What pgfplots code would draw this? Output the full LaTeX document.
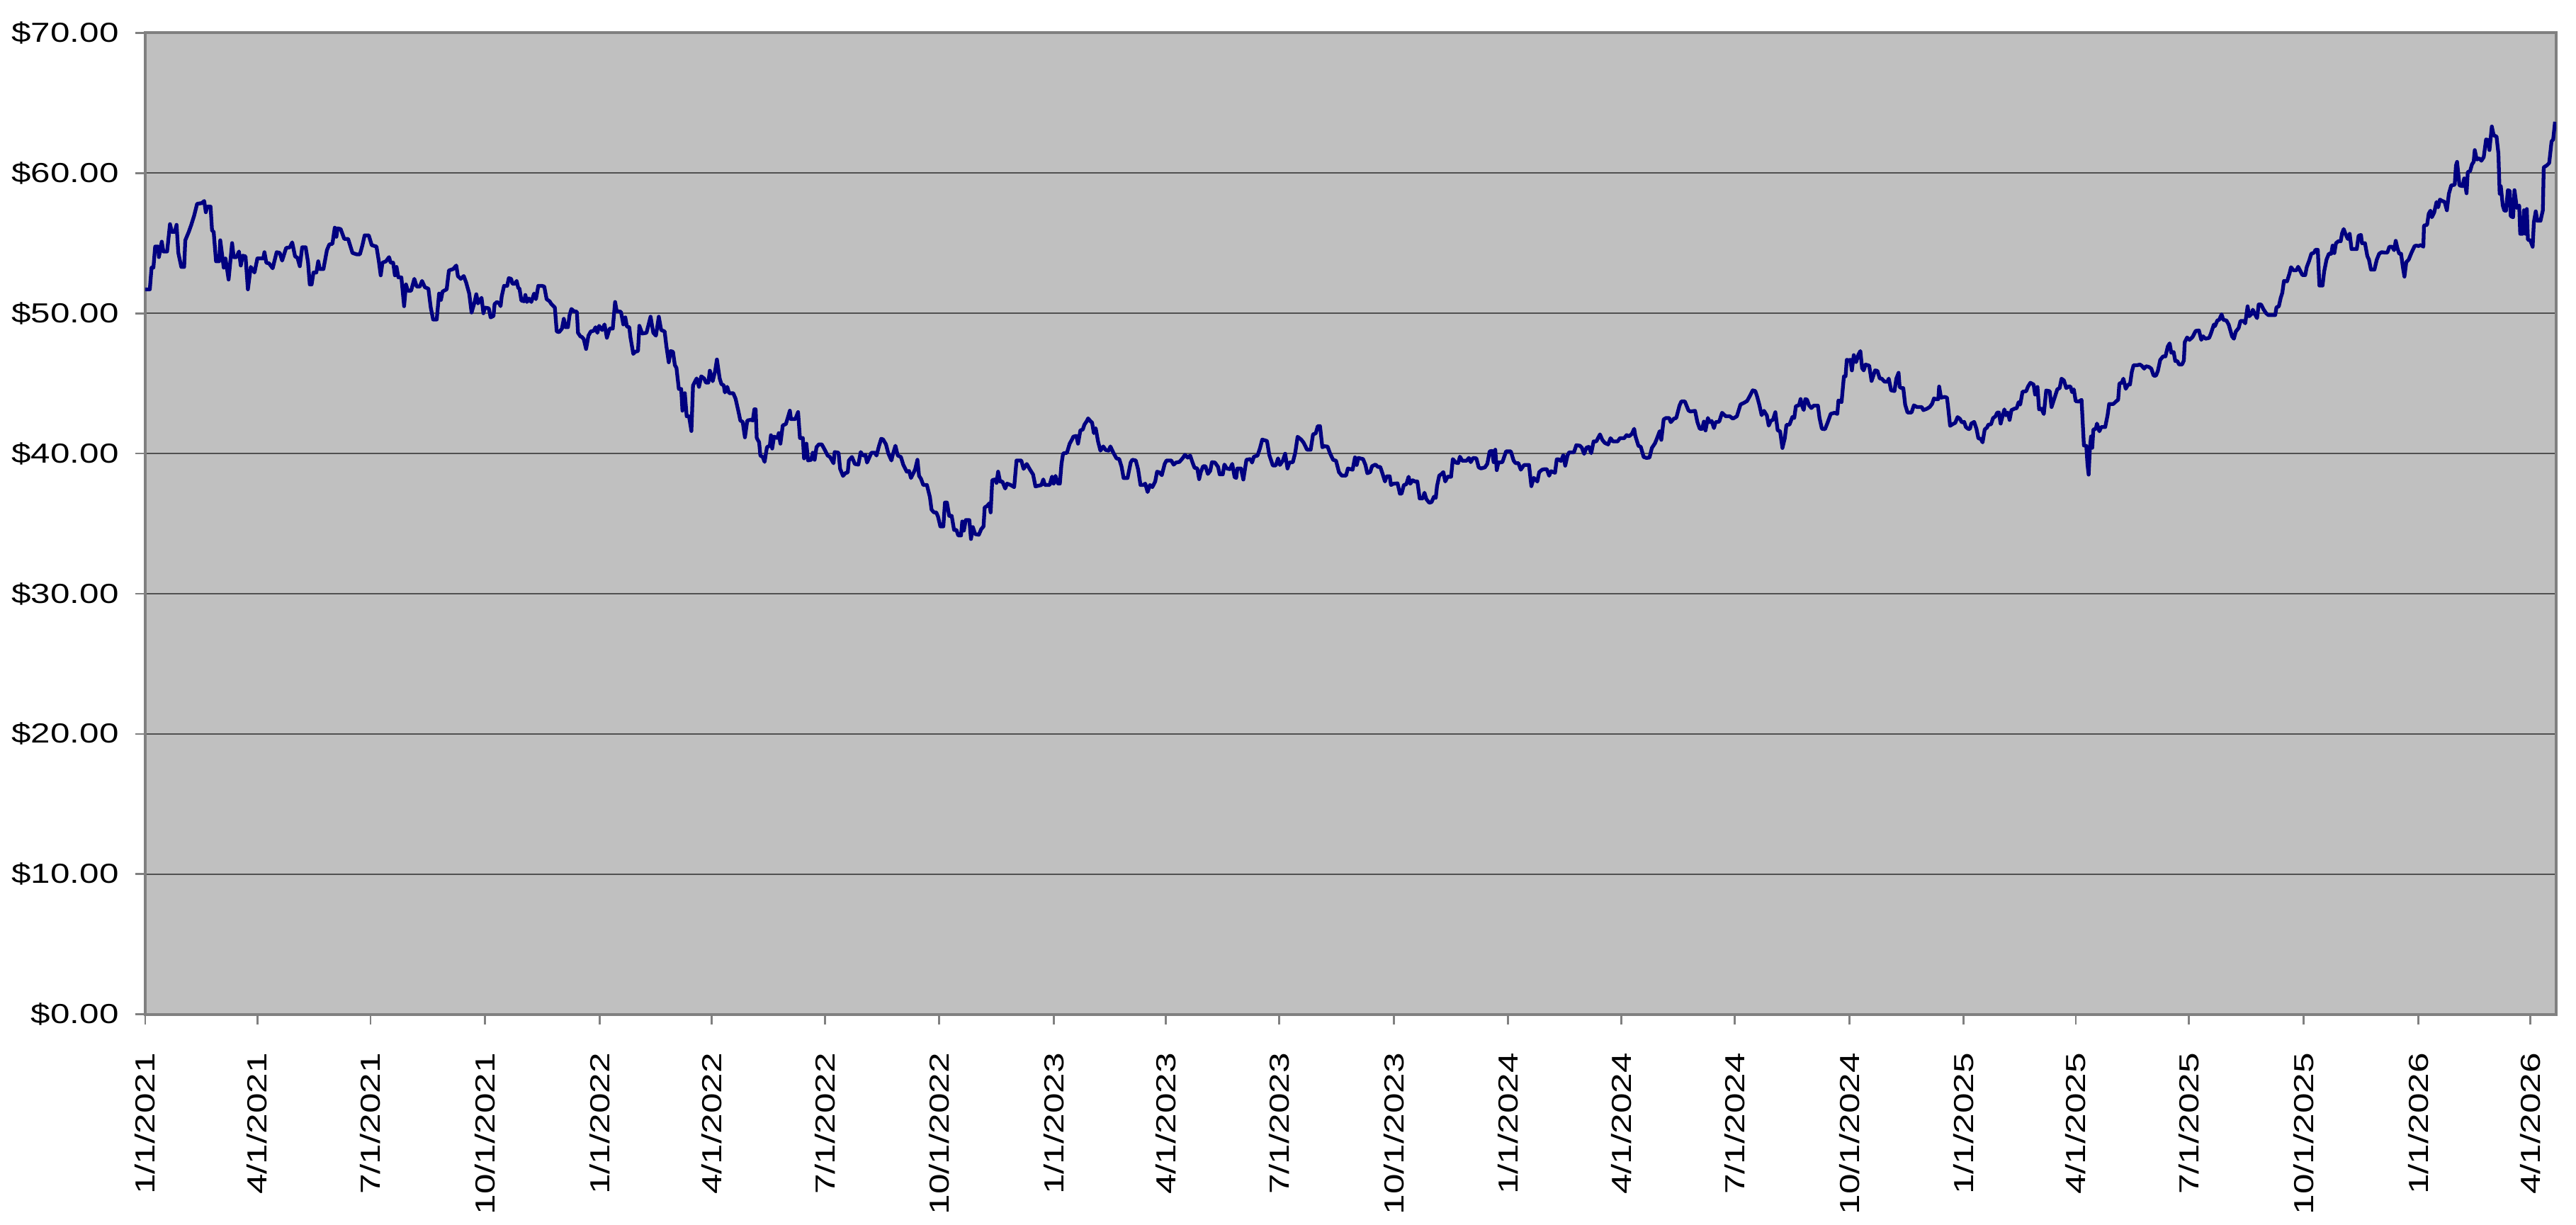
\documentclass[border=0pt]{standalone}
\usepackage{pgfplots}
\pgfplotsset{compat=1.18}
\usepackage{fontspec}
\setmainfont{Liberation Sans}
\newfontfamily\lab{Liberation Sans}[FakeStretch=1.27]
\newfontfamily\labx{Liberation Sans}[FakeStretch=1.32]
\definecolor{plotbg}{HTML}{C0C0C0}
\definecolor{navyline}{HTML}{000080}
\definecolor{framegray}{HTML}{808080}
\definecolor{gridgray}{HTML}{505050}
\begin{document}
\begin{tikzpicture}
\begin{axis}[
 at={(0,0)}, anchor=south west,
 width=709pt, height=288.7pt, scale only axis,
 xmin=0, xmax=1937, ymin=0, ymax=70,
 axis background/.style={fill=plotbg},
 axis line style={framegray, line width=0.8pt},
 ytick={0,10,...,70},
 yticklabels={\$0.00,\$10.00,\$20.00,\$30.00,\$40.00,\$50.00,\$60.00,\$70.00},
 xtick={0,90,181,273,365,455,546,638,730,820,911,1003,1095,1186,1277,1369,1461,1551,1642,1734,1826,1916},
 xticklabels={1/1/2021,4/1/2021,7/1/2021,10/1/2021,1/1/2022,4/1/2022,7/1/2022,10/1/2022,1/1/2023,4/1/2023,7/1/2023,10/1/2023,1/1/2024,4/1/2024,7/1/2024,10/1/2024,1/1/2025,4/1/2025,7/1/2025,10/1/2025,1/1/2026,4/1/2026},
 tick pos=left, tick align=outside, major tick length=3pt,
 tick style={framegray, line width=0.6pt},
 ymajorgrids, major grid style={gridgray, line width=0.4pt},
 xticklabel style={font=\labx\fontsize{8.1}{9}\selectfont, rotate=90, anchor=east, inner sep=0pt},
 yticklabel style={font=\lab\fontsize{8.1}{9}\selectfont, anchor=east, inner sep=0pt},
 xticklabel shift=8.1pt, yticklabel shift=4.6pt,
]
\addplot[navyline, line width=1.1pt, mark=none, line join=round] table {
x y
0 51.7
3.7 51.7
5.1 53.25
6.6 53.25
8 54.75
10.4 54.75
11 54.0
13.3 55.1
14.6 54.4
17.6 54.4
19.9 56.35
21.4 55.8
23.7 55.8
25.2 56.3
26.6 54.3
29 53.3
31.3 53.3
32.2 55.2
35 55.8
37 56.3
39.3 56.95
41.7 57.8
45.5 57.85
47.4 58.0
48.7 57.2
49.9 57.6
52.5 57.6
53.7 55.9
55 55.8
56.9 53.7
59.4 53.7
60.3 55.2
63.1 53.25
64.5 53.9
67 52.4
69.8 55.0
71.1 54.0
73.4 54.0
75.3 54.4
76.8 53.4
78.3 54.1
80.6 54.05
82.5 51.7
84.8 53.3
87.8 52.9
90.1 53.9
94.8 53.9
95.8 54.35
97.3 53.6
99.5 53.55
102.4 53.2
105.6 54.35
108.1 54.3
110 53.75
113.2 54.65
116.2 54.7
118.1 55.05
120.4 54.05
122.3 53.95
124.2 53.35
126.1 54.7
128.9 54.7
130.8 53.65
132.2 52.05
133.7 52.05
135.2 52.9
137.5 52.9
139 53.7
140.3 53.15
143.2 53.15
146 54.5
147.9 54.9
150.4 54.95
152.3 56.1
153.6 55.45
154.5 56.05
157 56.0
159.9 55.3
163 55.3
166.5 54.3
169.7 54.2
172.5 54.2
174.5 54.85
176.3 55.55
179.6 55.55
182 54.85
185.8 54.75
187.7 53.7
189.2 52.7
190.6 53.6
193.4 53.7
195.9 54.0
197.2 53.6
199.2 53.6
200.6 52.7
201.9 53.3
203.4 52.55
205.8 52.55
208 50.5
209.5 52.05
211 51.6
213.6 51.6
216.2 52.45
218.1 51.9
220.6 51.9
222.4 52.3
224.7 51.85
227.5 51.75
229.4 50.4
231.3 49.55
234.2 49.55
236.1 51.4
237.6 50.95
238.9 51.55
242.2 51.7
244 53.05
247.4 53.15
249.9 53.4
251.2 52.65
253.5 52.45
255.9 52.65
257.8 52.2
260.3 51.4
262.2 50.05
264.5 50.75
266 51.35
267.4 50.7
270.2 51.1
271.7 50.0
273 50.4
276.0 50.35
277.5 49.7
279.8 49.8
280.7 50.65
282.6 50.8
284.5 50.7
285.5 50.5
286.4 51.2
288.3 51.95
290.8 51.95
292.1 52.5
294.0 52.45
295.0 52.1
296.9 52.1
298.4 52.3
299.7 51.8
300.7 51.75
302.2 50.9
304.5 50.85
305.4 51.3
306.7 50.8
308.3 51.05
310.2 50.8
312.4 51.4
313.9 51.0
315.8 51.95
318.7 51.95
320.6 51.9
322.5 51.0
324.9 50.85
326.3 50.65
329.1 50.4
330.6 48.7
332.5 48.65
334.8 48.9
336.3 49.6
337.7 49.0
339.6 49.0
340.9 49.85
342.4 50.3
344.3 50.15
346.8 50.1
347.7 48.6
349.6 48.35
350.9 48.3
352.3 48.15
354.2 47.45
356.1 48.4
358.0 48.7
360.4 48.75
361.8 49.0
363.3 48.6
364.6 49.1
367.1 48.8
369.0 49.2
370.9 48.25
373.1 48.9
375.6 48.9
377.5 50.8
378.8 50.15
382.2 50.1
384.1 49.2
385.7 49.7
387.0 49.05
388.9 49.0
389.8 48.3
392.1 47.1
393.6 47.25
395.9 47.3
397.0 49.1
399.3 48.55
402.7 48.6
406.0 49.75
408.2 48.6
410.3 48.4
412.6 49.75
414.5 48.8
417.3 48.7
418.7 47.65
420.6 46.5
422.1 47.3
424.0 47.25
425.5 46.3
426.8 46.1
428.7 44.6
430.6 44.6
431.6 43.05
433.5 44.3
435.0 42.65
436.9 42.65
438.8 41.6
440.1 44.85
443.0 45.35
444.9 44.75
446.7 45.5
449.0 45.35
450.5 45.05
452.4 45.05
453.6 45.9
455.9 45.15
457.8 45.85
459.3 46.7
461.5 45.35
462.9 44.95
464.8 44.85
465.7 44.35
467.6 44.75
469.1 44.3
472.4 44.3
474.3 43.9
476.7 42.95
478.1 42.35
480.0 42.25
481.8 41.15
483.7 42.35
486.6 42.4
488.1 42.35
489.4 43.15
490.4 43.15
491.3 41.1
493.2 40.8
494.2 39.85
496.1 39.75
497.6 39.4
499.5 40.45
501.8 40.55
502.7 41.3
503.7 40.35
505.2 41.2
507.8 41.1
509.0 41.45
510.3 40.7
512.2 42.0
514.7 42.1
516.6 42.65
517.9 43.05
518.8 42.45
522.3 42.45
524.5 42.95
526.0 41.1
528.3 41.1
529.3 39.65
531.2 40.7
532.5 39.5
535.0 39.55
536.3 40.05
537.8 39.55
539.3 40.45
541.2 40.65
543.5 40.65
545.4 40.35
548.3 39.85
550.1 39.75
553.0 39.3
553.9 40.1
557.0 40.05
558.3 38.9
560.6 38.4
562.5 38.6
564.4 38.65
565.3 39.5
567.8 39.75
570.1 39.25
572.9 39.2
574.8 40.1
576.7 39.85
578.6 39.9
579.9 39.35
583.4 40.05
586.2 40.05
587.5 39.85
589.4 40.5
591.3 41.05
592.8 41.0
595.1 40.65
597.0 40.0
599.5 39.5
600.4 39.85
602.7 40.55
604.6 39.85
607.1 39.75
609.0 39.2
611.8 38.7
613.7 38.75
615.2 38.25
616.6 38.5
618.5 38.85
620.4 39.55
621.7 38.4
623.2 38.2
625.1 37.75
628.0 37.75
630.4 36.9
631.7 36.0
633.6 35.8
635.5 35.8
636.9 35.5
638.8 34.8
641.2 34.8
642.5 36.5
644.1 36.5
645.9 35.55
647.9 35.55
649.8 34.55
651.7 34.55
653.2 34.15
655.4 34.15
656.4 35.15
657.7 34.5
659.2 35.25
662.1 35.25
663.4 33.9
664.9 34.75
666.8 34.25
669.7 34.2
671.6 34.6
673.5 34.8
674.4 36.15
676.3 36.25
678.2 36.45
679.2 35.8
680.5 38.1
683.0 38.15
683.9 37.9
685.2 38.7
686.8 38.0
688.6 38.0
690.9 37.5
692.4 37.85
695.3 37.75
698.1 37.6
700.0 39.5
703.8 39.5
705.7 38.9
708.2 39.25
710.8 38.85
713.3 38.5
715.2 37.65
720.0 37.75
721.5 38.15
722.8 37.75
726.6 37.75
728.5 38.35
729.8 37.85
731.3 38.4
733.2 37.85
734.8 37.85
736.1 39.25
737.4 40.0
740.5 40.05
742.7 40.7
744.6 41.0
745.6 41.2
748.0 41.25
749.4 40.7
751.3 41.65
753.2 41.7
754.5 42.05
756.4 42.3
757.5 42.5
759.4 42.3
760.7 42.2
762.1 41.45
763.6 41.8
765.5 40.85
767.4 40.2
769.7 40.5
771.6 40.25
774.0 40.2
775.4 40.5
777.8 40.05
780.3 39.65
782.5 39.6
784.4 39.05
786.0 38.25
789.2 38.25
791.7 39.35
793.0 39.55
795.8 39.5
797.7 38.85
799.6 37.75
801.9 37.75
803.4 37.85
805.3 37.25
807.2 37.75
809.1 37.6
811.4 38.0
812.9 38.7
814.8 38.65
816.7 38.45
819.0 39.25
820.5 39.5
824.3 39.5
826.2 39.2
828.1 39.35
830.9 39.4
833.8 39.7
835.3 39.9
837.6 39.7
839.5 39.85
841.4 39.35
843.0 38.98
845.2 38.93
846.7 38.17
848.0 38.67
849.9 39.09
851.8 39.09
853.7 38.54
855.6 38.76
857.0 39.38
859.4 39.35
861.9 39.04
863.2 38.51
865.7 38.51
867.0 39.21
868.9 38.93
871.4 38.88
873.3 39.26
875.2 38.31
876.5 38.26
877.4 38.93
880.3 38.93
882.2 38.14
884.7 39.55
887.9 39.6
889.2 39.35
890.7 39.77
893.6 39.85
895.5 40.35
897.4 40.99
901.2 40.89
903.1 39.88
905.9 39.14
908.2 39.14
910.1 39.65
911.6 39.18
913.9 39.48
915.8 39.98
917.7 38.93
919.2 39.35
922.0 39.38
923.9 40.05
925.8 41.19
928.7 40.99
930.6 40.77
933.4 40.27
936.3 40.27
938.2 41.36
940.4 41.44
942.0 41.95
943.8 41.95
945.7 40.44
947.3 40.52
949.9 40.49
951.8 40.02
954.3 39.55
956.7 39.48
959.0 38.67
961.3 38.42
964.7 38.42
966.2 38.93
970.0 38.84
971.9 39.72
973.3 39.18
974.6 39.68
978.4 39.6
980.3 39.18
981.8 38.59
984.1 38.67
985.6 39.09
988.4 39.21
990.3 39.04
992.2 39.04
994.1 38.54
996.0 38.0
997.3 38.37
999.8 38.37
1000.8 37.75
1002.7 37.84
1006.1 37.87
1008.0 37.13
1009.3 37.13
1011.2 37.75
1013.1 37.8
1015.0 38.34
1016.3 37.84
1018.2 38.09
1020.1 38.0
1022.0 38.0
1023.9 36.79
1026.4 36.79
1027.7 37.2
1029.2 36.75
1031.5 36.49
1033.4 36.53
1035.3 36.91
1036.8 36.83
1037.8 37.67
1039.6 38.42
1041.5 38.54
1042.9 38.67
1044.4 38.0
1046.3 38.34
1049.1 38.34
1050.5 39.6
1052.9 39.35
1054.8 39.31
1056.2 39.77
1058.1 39.48
1061.5 39.48
1063.4 39.68
1064.9 39.38
1066.8 39.68
1069.4 39.65
1071.3 39.01
1073.2 38.93
1076.3 39.01
1078.2 39.26
1080.1 40.15
1082.0 40.18
1083.3 39.38
1084.6 40.27
1085.8 38.81
1087.1 39.35
1090.3 39.38
1093.3 40.15
1097.1 40.15
1099.4 39.48
1100.9 39.31
1103.2 39.31
1105.1 38.84
1107.0 39.09
1108.0 39.18
1111.7 39.18
1113.6 37.67
1115.5 38.26
1118.4 38.0
1119.9 38.67
1122.2 38.84
1124.1 38.88
1126.0 38.88
1127.9 38.41
1129.4 38.74
1132.6 38.62
1134.0 39.58
1135.5 39.58
1137.4 39.46
1139.3 39.88
1140.8 39.13
1142.7 39.88
1144.0 40.08
1147.8 40.08
1149.7 40.59
1152.6 40.55
1154.1 40.42
1156.0 39.97
1157.9 40.42
1159.8 40.47
1161.7 40.02
1163.6 40.86
1165.8 40.86
1168.7 41.36
1170.6 40.97
1172.5 40.76
1175.3 40.64
1177.2 41.09
1179.1 40.86
1182.9 40.86
1184.8 41.09
1188.2 41.09
1190.1 41.31
1192.0 41.22
1194.3 41.39
1196.2 41.76
1197.1 41.26
1199.6 40.55
1201.5 40.47
1203.8 39.75
1206.1 39.68
1208.5 39.71
1210.4 40.39
1212.9 40.72
1214.8 41.14
1216.7 41.59
1218.0 40.97
1219.9 42.43
1221.8 42.53
1224.3 42.53
1225.6 42.23
1228.1 42.48
1230.0 42.53
1232.6 43.41
1234.1 43.71
1236.9 43.71
1239.8 43.07
1241.3 42.99
1245.1 43.04
1247.0 42.23
1248.9 41.76
1250.8 41.76
1252.2 42.27
1253.5 41.64
1255.4 42.53
1256.9 42.23
1258.4 42.32
1260.3 41.81
1261.6 42.23
1264.5 42.27
1266.8 42.9
1269.8 42.65
1273.0 42.65
1275.5 42.48
1278.7 42.65
1281.6 43.49
1284.4 43.61
1286.9 43.74
1289.2 44.11
1291.4 44.5
1293.5 44.45
1294.9 44.08
1296.7 43.49
1298.6 42.73
1300.5 43.04
1302.8 42.7
1304.3 41.98
1305.9 42.32
1307.7 42.4
1309.6 42.94
1311.5 41.64
1313.4 41.59
1315.3 40.39
1317.2 41.09
1318.5 42.03
1321.0 42.06
1323.3 42.6
1324.8 42.53
1326.1 43.37
1328.6 43.44
1329.9 43.88
1330.9 43.44
1332.4 43.1
1333.7 43.88
1335.1 43.83
1336.6 43.44
1338.5 43.24
1340.4 43.41
1343.8 43.41
1345.1 42.53
1347.0 41.76
1349.5 41.73
1351.4 42.15
1354.1 42.82
1357.1 42.9
1359.4 42.82
1360.3 43.78
1362.8 43.66
1364.7 45.5
1366.0 45.5
1367.0 46.68
1368.8 46.63
1369.8 46.68
1371.1 45.92
1372.6 47.01
1374.5 46.51
1376.4 47.06
1377.9 47.3
1379.3 46.09
1380.6 45.92
1382.1 46.34
1385.0 46.26
1386.9 45.17
1388.2 45.5
1389.7 45.92
1391.6 45.89
1393.5 45.34
1395.0 45.34
1397.3 45.12
1399.6 45.12
1400.7 45.34
1402.6 44.5
1405.3 44.45
1406.8 45.34
1408.6 45.75
1409.5 44.74
1410.9 44.66
1412.4 44.66
1413.9 43.48
1415.8 42.92
1419.0 42.92
1420.9 43.43
1423.4 43.31
1427.2 43.31
1428.5 43.09
1431.4 43.19
1433.6 43.31
1435.5 43.53
1437.1 43.93
1438.6 43.87
1440.5 43.87
1441.2 44.77
1442.7 43.98
1445.6 44.03
1447.5 43.98
1448.4 43.31
1450.0 41.97
1451.9 42.08
1454.1 42.18
1456.0 42.59
1457.9 42.47
1459.4 42.22
1461.3 42.25
1462.7 41.88
1464.6 41.75
1465.9 41.75
1467.0 42.13
1469.3 42.25
1471.2 41.75
1472.7 41.08
1474.6 41.04
1476.1 40.79
1477.8 41.71
1479.7 41.85
1480.7 42.05
1482.9 42.08
1484.5 42.52
1486.4 42.64
1487.9 42.92
1489.2 42.92
1490.6 42.13
1492.1 42.64
1493.6 43.14
1494.9 42.72
1496.3 42.92
1497.8 42.39
1499.3 43.09
1501.6 43.19
1503.5 43.23
1505.0 43.65
1506.3 43.48
1508.2 44.4
1511.1 44.44
1512.6 44.77
1514.5 45.04
1517.1 44.91
1518.3 44.2
1520.2 44.74
1521.5 43.14
1523.4 43.19
1525.3 42.81
1527.2 44.49
1530.0 44.44
1531.5 43.31
1533.8 43.93
1536.1 44.57
1538.0 44.66
1539.5 45.33
1541.4 45.21
1543.3 44.66
1545.2 44.77
1546.7 44.77
1548.0 44.37
1549.4 44.57
1550.9 43.73
1553.2 43.70
1555.6 43.82
1557.5 40.57
1559.4 40.54
1560.4 39.19
1561.3 38.49
1562.3 40.37
1563.2 41.21
1564.2 40.40
1565.1 41.71
1567.0 41.75
1568.0 42.13
1569.9 41.58
1571.4 41.88
1574.6 41.88
1576.5 42.72
1577.8 43.53
1581.2 43.53
1583.5 43.73
1585.0 43.82
1586.0 44.99
1587.9 45.04
1589.2 45.33
1591.1 44.61
1593.0 44.91
1594.5 44.91
1596.0 45.83
1597.4 46.29
1600.2 46.29
1602.5 46.34
1604.0 46.25
1605.9 46.05
1607.4 46.22
1609.7 46.17
1611.6 46.05
1613.5 45.55
1615.4 45.55
1616.9 45.88
1618.8 46.67
1621.1 46.92
1623.0 46.92
1624.9 47.63
1626.4 47.85
1627.7 47.18
1629.6 47.23
1630.9 46.59
1632.5 46.59
1634.0 46.34
1636.3 46.34
1637.8 46.62
1638.5 47.93
1640.4 48.27
1642.3 48.10
1644.8 48.30
1647.3 48.74
1649.9 48.77
1651.8 48.10
1653.3 48.35
1655.2 48.18
1658.1 48.24
1659.4 48.52
1661.9 49.19
1662.8 49.08
1664.7 49.48
1666.2 49.53
1668.1 49.92
1669.5 49.53
1672.0 49.48
1673.8 49.19
1676.5 48.35
1678.0 48.18
1679.5 48.69
1681.8 48.94
1683.3 49.45
1685.6 49.45
1687.1 49.28
1689.0 50.49
1690.3 49.78
1692.2 49.95
1693.2 50.25
1694.7 49.95
1696.6 49.65
1697.9 50.62
1699.8 50.62
1701.7 50.29
1703.6 50.03
1705.5 49.87
1709.3 49.87
1711.2 49.87
1712.2 50.42
1714.1 50.49
1715.6 51.09
1716.9 51.46
1718.2 52.30
1720.7 52.27
1722.6 52.81
1723.9 53.28
1725.8 53.06
1728.3 53.06
1729.6 53.31
1731.1 53.06
1733.0 52.72
1735.3 52.72
1736.5 53.28
1738.4 53.73
1740.2 54.24
1742.5 54.32
1743.5 54.52
1745.4 54.52
1746.7 51.97
1749.2 51.97
1750.5 52.97
1752.4 53.82
1754.3 54.24
1756.2 54.24
1757.3 54.82
1758.7 54.29
1760.0 54.99
1761.9 55.13
1763.8 55.13
1764.9 55.70
1766.2 56.0
1767.6 55.66
1769.5 55.29
1771.0 55.66
1772.5 54.57
1774.4 54.57
1776.7 54.57
1778.2 55.53
1780.1 55.58
1780.9 54.99
1783.3 54.99
1785.2 54.07
1786.5 53.82
1788.1 53.11
1790.9 53.11
1792.8 53.82
1794.7 54.24
1796.6 54.35
1799.4 54.32
1801.3 54.32
1802.9 54.74
1805.1 54.74
1806.7 54.49
1808.0 55.16
1809.3 54.66
1810.8 54.24
1812.3 54.24
1813.7 53.31
1815.0 52.61
1816.5 53.65
1818.4 53.82
1820.7 54.32
1823.2 54.79
1824.5 54.82
1826.4 54.79
1828.3 54.86
1830.2 54.74
1830.7 56.25
1833.2 56.30
1834.5 57.09
1835.9 57.31
1837.0 56.84
1838.9 57.18
1840.8 57.93
1842.1 57.55
1843.5 58.10
1845.0 58.02
1847.3 57.93
1849.1 57.34
1850.7 58.52
1852.6 59.11
1855.4 59.16
1856.4 60.54
1857.3 60.79
1859.2 59.11
1861.7 59.06
1863.0 59.61
1864.9 58.55
1865.9 60.07
1867.7 60.12
1869.3 60.62
1870.6 60.79
1871.5 61.63
1873.1 60.96
1875.3 61.04
1876.8 60.87
1878.7 61.13
1880.6 62.39
1882.0 62.35
1883.3 61.63
1885.2 63.31
1886.7 62.69
1889.0 62.59
1890.5 61.38
1891.5 58.52
1892.4 59.06
1894.0 57.68
1895.3 57.31
1896.6 57.31
1898.1 58.77
1899.6 58.72
1900.4 56.92
1902.3 56.84
1903.4 58.77
1905.3 57.51
1907.2 57.68
1908.0 55.66
1909.9 55.66
1911.0 57.34
1912.3 55.66
1913.3 57.43
1914.2 55.24
1916.1 55.19
1918.0 54.74
1919.0 56.50
1920.5 57.26
1921.8 56.59
1924.3 56.59
1926.2 57.34
1926.9 60.40
1929.4 60.54
1931.3 60.71
1933.2 62.25
1934.5 62.39
1936.0 63.65
};
\end{axis}
\pgfresetboundingbox
\path[use as bounding box] (-42.7pt,-61.7pt) rectangle (714.8pt,298.3pt);
\end{tikzpicture}
\end{document}
